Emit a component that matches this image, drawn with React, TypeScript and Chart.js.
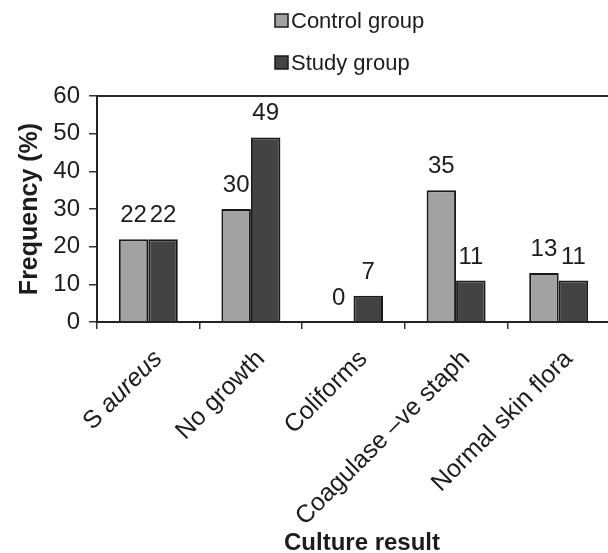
import React, { useEffect, useRef } from "react";
import { Chart, registerables } from "chart.js";

Chart.register(...registerables);

const categories = ["S aureus", "No growth", "Coliforms", "Coagulase \u2013ve staph", "Normal skin flora"];
const controlGroup = [22, 30, 0, 35, 13];
const studyGroup = [22, 49, 7, 11, 11];
const seriesNames = ["Control group", "Study group"];
const yMin = 0;
const yMax = 60;
const yStep = 10;
const italicWords = ["aureus"];
const yTitle = "Frequency (%)";
const xTitle = "Culture result";

const FONT = "'Liberation Sans', Arial, Helvetica, sans-serif";
const TEXT = "#1c1c1c";
const CONTROL_COLOR = "#a2a2a2";
const STUDY_COLOR = "#434343";
const EDGE = "#1a1a1a";

const decorPlugin = {
  id: "decor",
  afterDraw(chart: any) {
    const { ctx, chartArea } = chart;
    const xs = chart.scales.x;
    ctx.save();

    // top frame line
    ctx.strokeStyle = "#2a2a2a";
    ctx.lineWidth = 2;
    ctx.beginPath();
    ctx.moveTo(chartArea.left, chartArea.top);
    ctx.lineTo(chartArea.right + 20, chartArea.top);
    ctx.stroke();

    // value labels
    ctx.fillStyle = TEXT;
    ctx.font = `24px ${FONT}`;
    ctx.textAlign = "center";
    ctx.textBaseline = "alphabetic";
    chart.data.datasets.forEach((ds: any, di: number) => {
      const meta = chart.getDatasetMeta(di);
      meta.data.forEach((el: any, i: number) => {
        ctx.fillText(String(ds.data[i]), el.x, el.y - 17);
      });
    });

    // category labels (rotated, with italic words)
    (chart.data.labels as string[]).forEach((lab, i) => {
      const x = xs.getPixelForTick(i) + 10;
      const y = xs.top + 33;
      ctx.save();
      ctx.translate(x, y);
      ctx.rotate(-Math.PI / 4);
      const words = lab.split(" ");
      const segs = words.map((w, k) => ({
        text: k < words.length - 1 ? w + " " : w,
        italic: italicWords.includes(w),
        w: 0,
      }));
      let total = 0;
      segs.forEach((s) => {
        ctx.font = `${s.italic ? "italic " : ""}25px ${FONT}`;
        s.w = ctx.measureText(s.text).width;
        total += s.w;
      });
      let cx = -total;
      ctx.textAlign = "left";
      ctx.textBaseline = "middle";
      ctx.fillStyle = TEXT;
      segs.forEach((s) => {
        ctx.font = `${s.italic ? "italic " : ""}25px ${FONT}`;
        ctx.fillText(s.text, cx, 0);
        cx += s.w;
      });
      ctx.restore();
    });

    // axis titles
    ctx.fillStyle = TEXT;
    ctx.font = `bold 24px ${FONT}`;
    ctx.textAlign = "center";
    ctx.textBaseline = "alphabetic";
    ctx.fillText(xTitle, 362, 550);

    ctx.save();
    ctx.font = `bold 25px ${FONT}`;
    ctx.translate(37, (chartArea.top + chartArea.bottom) / 2);
    ctx.rotate(-Math.PI / 2);
    ctx.fillText(yTitle, 0, 0);
    ctx.restore();

    // legend
    ctx.font = `22px ${FONT}`;
    ctx.textAlign = "left";
    ctx.textBaseline = "middle";
    chart.data.datasets.forEach((ds: any, di: number) => {
      const cy = 21 + di * 42;
      ctx.fillStyle = ds.backgroundColor;
      ctx.fillRect(275, cy - 7, 13, 13);
      ctx.strokeStyle = EDGE;
      ctx.lineWidth = 1.5;
      ctx.strokeRect(275, cy - 7, 13, 13);
      ctx.fillStyle = TEXT;
      ctx.fillText(ds.label, 291, cy + 1);
    });

    ctx.restore();
  },
};

export default function App() {
  const canvasRef = useRef<HTMLCanvasElement | null>(null);

  useEffect(() => {
    const canvas = canvasRef.current;
    if (!canvas) return;
    const chart = new Chart(canvas, {
      type: "bar",
      data: {
        labels: categories,
        datasets: [
          {
            label: seriesNames[0],
            data: controlGroup,
            backgroundColor: CONTROL_COLOR,
            borderColor: EDGE,
            borderWidth: 2,
            categoryPercentage: 0.575,
            barPercentage: 1,
          },
          {
            label: seriesNames[1],
            data: studyGroup,
            backgroundColor: STUDY_COLOR,
            borderColor: EDGE,
            borderWidth: 2,
            categoryPercentage: 0.575,
            barPercentage: 1,
          },
        ],
      },
      options: {
        responsive: false,
        animation: false,
        devicePixelRatio: 1,
        layout: { padding: { top: 96, right: 10, left: 0, bottom: 0 } },
        plugins: {
          legend: { display: false },
          tooltip: { enabled: false },
          title: { display: false },
        },
        scales: {
          x: {
            ticks: { display: false },
            grid: {
              offset: true,
              drawOnChartArea: false,
              drawTicks: true,
              tickLength: 7,
              color: "#333",
              lineWidth: 1.5,
            },
            border: { display: true, color: "#222", width: 2 },
            afterFit: (scale: any) => {
              scale.height = 231;
            },
          },
          y: {
            min: yMin,
            max: yMax,
            ticks: {
              stepSize: yStep,
              color: TEXT,
              font: { family: FONT, size: 24 },
              padding: 9,
            },
            grid: {
              drawOnChartArea: false,
              drawTicks: true,
              tickLength: 8,
              color: "#333",
              lineWidth: 1.5,
            },
            border: { display: true, color: "#222", width: 2 },
            afterFit: (scale: any) => {
              scale.width = 97;
            },
          },
        },
      },
      plugins: [decorPlugin],
    });
    return () => chart.destroy();
  }, []);

  return (
    <div
      style={{
        position: "fixed",
        left: 0,
        top: 0,
        width: 608,
        height: 553,
        overflow: "hidden",
        background: "#fff",
      }}
    >
      <canvas ref={canvasRef} width={620} height={553} style={{ display: "block" }} />
    </div>
  );
}
